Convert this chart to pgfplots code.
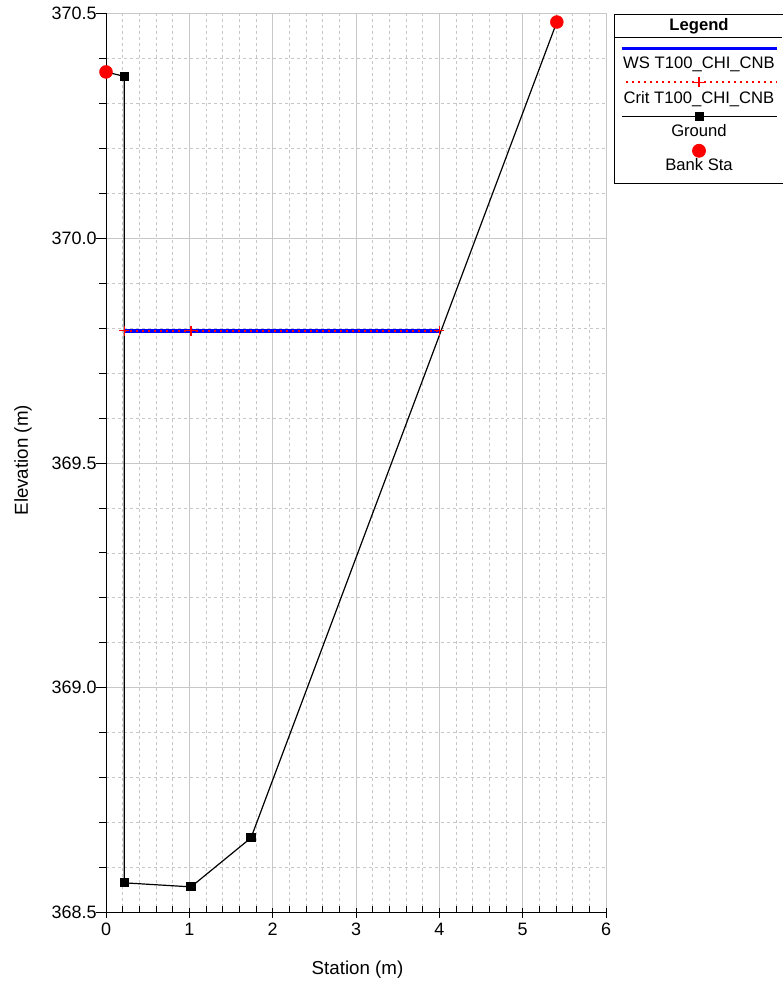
\documentclass[border=0pt]{standalone}
\usepackage{fontspec}
\setmainfont{Liberation Sans}
\usepackage{pgfplots}
\pgfplotsset{compat=1.18}

\definecolor{wsblue}{RGB}{0,0,255}
\definecolor{bankred}{RGB}{255,0,0}
\newcommand{\legfont}{\fontsize{16.7}{20}\selectfont}

\begin{document}
\begin{tikzpicture}[font=\legfont]
\path[use as bounding box] (0,0) rectangle (783bp,987bp);
\begin{axis}[
    at={(106bp,74.5bp)}, anchor=south west,
    width=500bp, height=899bp, scale only axis,
    xmin=0, xmax=6, ymin=368.5, ymax=370.5,
    xtick={0,1,...,6}, ytick={368.5,369,369.5,370,370.5},
    minor x tick num=4, minor y tick num=4,
    grid=both,
    major grid style={black!22, line width=0.8bp},
    minor grid style={black!22, dashed, line width=0.7bp},
    axis x line*=bottom, axis y line*=left,
    axis line style={black, line width=0.9bp},
    xtick align=inside, ytick align=outside,
    major tick length=10bp, minor tick length=7bp,
    tick style={black, line width=0.8bp},
    major x tick style={yshift=-5bp},
    scaled y ticks=false,
    tick label style={font=\fontsize{18}{21}\selectfont},
    label style={font=\fontsize{18.8}{22}\selectfont},
    xticklabel style={yshift=-7bp},
    yticklabel style={xshift=4bp, /pgf/number format/.cd, fixed, fixed zerofill, precision=1},
    /pgf/number format/assume math mode=true,
    xlabel={Station (m)}, ylabel={Elevation (m)},
    xlabel style={at={(axis description cs:0.503,-0.0634)}, anchor=center},
    ylabel style={at={(axis description cs:-0.166,0.503)}, anchor=center},
    legend style={at={(axis description cs:1.016,0.9991)}, anchor=north west,
      draw=black, line width=0.8bp, fill=white, inner sep=0pt, outer sep=0pt,
      row sep=0pt, column sep=0pt, nodes={inner sep=0pt, text depth=0pt},
      legend columns=1},
  ]
  % ground profile
  \addplot[black, line width=1.2bp, mark=square*, mark size=4bp, forget plot] coordinates {
    (0,370.37) (0.22,370.36) (0.22,368.566) (1.02,368.557) (1.74,368.666) (5.41,370.481)
  };
  % water surface
  \addplot[wsblue, line width=3.5bp, forget plot] coordinates {
    (0.22,369.794) (4.0,369.794)
  };
  % critical depth
  \addplot[bankred, line width=1.8bp, dash pattern=on 1.8bp off 4.2bp, mark=+, mark size=5bp,
    mark options={solid, line width=1.2bp}, forget plot] coordinates {
    (0.22,369.794) (1.02,369.794) (4.0,369.794)
  };
  % bank stations
  \addplot[only marks, mark=*, mark size=6.5bp, bankred, forget plot] coordinates {
    (0,370.37) (5.41,370.481)
  };

  \addlegendimage{legend image code/.code={
    \path[draw=none, fill=none] (0,0) rectangle (168bp,-23bp);
    \node[font=\legfont\bfseries, text=black, anchor=base] at (85bp,-15.7bp) {Legend};
    \draw[black, line width=0.8bp, overlay] (0,-23bp) -- (168bp,-23bp);
  }}
  \addlegendentry{\mbox{}}
  \addlegendimage{legend image code/.code={
    \path[draw=none, fill=none] (0,0) rectangle (168bp,-35bp);
    \draw[wsblue, line width=3.3bp] (7.7bp,-10bp) -- (162.7bp,-10bp);
    \node[font=\legfont, text=black, anchor=base] at (85bp,-30.2bp) {WS T100\_CHI\_CNB};
  }}
  \addlegendentry{\mbox{}}
  \addlegendimage{legend image code/.code={
    \path[draw=none, fill=none] (0,0) rectangle (168bp,-34bp);
    \draw[bankred, line width=2bp, dash pattern=on 2bp off 4bp] (12bp,-8.4bp) -- (163bp,-8.4bp);
    \draw[bankred, line width=1.2bp] plot[mark=+, mark size=5bp] coordinates {(85bp,-8.4bp)};
    \node[font=\legfont, text=black, anchor=base] at (85bp,-29.4bp) {Crit T100\_CHI\_CNB};
  }}
  \addlegendentry{\mbox{}}
  \addlegendimage{legend image code/.code={
    \path[draw=none, fill=none] (0,0) rectangle (168bp,-34bp);
    \draw[black, line width=1.2bp] (8bp,-8bp) -- (163bp,-8bp);
    \fill[black] plot[mark=square*, mark size=4bp] coordinates {(85bp,-8bp)};
    \node[font=\legfont, text=black, anchor=base] at (85bp,-28.7bp) {Ground};
  }}
  \addlegendentry{\mbox{}}
  \addlegendimage{legend image code/.code={
    \path[draw=none, fill=none] (0,0) rectangle (168bp,-40.4bp);
    \fill[bankred] plot[mark=*, mark size=6.5bp] coordinates {(85bp,-8bp)};
    \node[font=\legfont, text=black, anchor=base] at (85bp,-27.4bp) {Bank Sta};
  }}
  \addlegendentry{\mbox{}}
\end{axis}
\end{tikzpicture}
\end{document}
